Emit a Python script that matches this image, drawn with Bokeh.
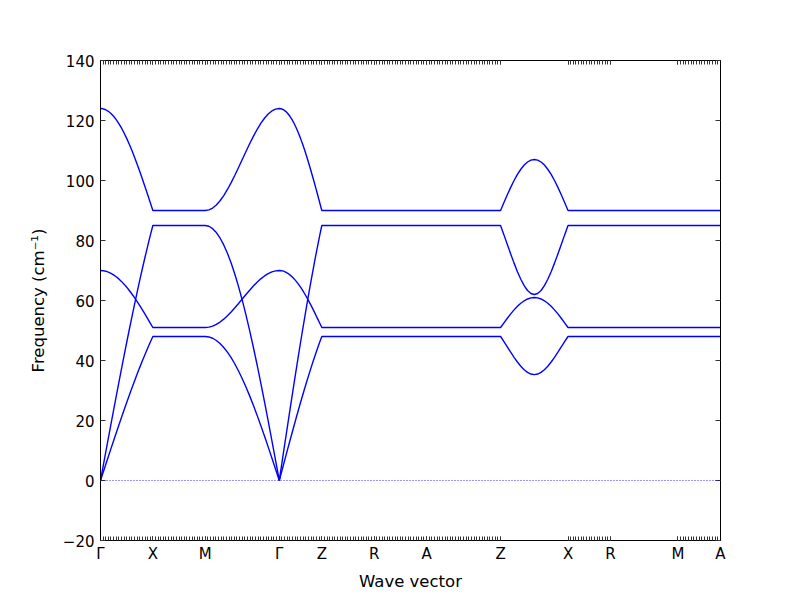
import numpy as np
from bokeh.plotting import figure
from bokeh.models import Range1d, FixedTicker, LinearAxis, Span
from bokeh.embed import file_html
from bokeh.resources import INLINE

# high-symmetry points along the path (path distance)
labels = ["Γ", "X", "M", "Γ", "Z", "R", "A", "Z", "X", "R", "M", "A"]
label_pos = [0.0, 0.5, 1.0, 1.7071, 2.1131, 2.6131, 3.1131, 3.8202, 4.4642, 4.8702, 5.5142, 5.9202]

# q-point tick counts per segment (0 = no ticks drawn on that segment)
tick_counts = [20, 20, 28, 16, 20, 20, 28, 0, 16, 0, 16]

# flat levels of the four branches (cm^-1)
flat_levels = [48.0, 85.0, 51.0, 90.0]

# band 1 (lower acoustic)
b1_gx = [0, 2.66, 5.33, 7.98, 10.62, 13.24, 15.85, 18.43, 20.98, 23.50, 25.98,
         28.42, 30.82, 33.17, 35.47, 37.71, 39.90, 42.02, 44.09, 46.08, 48.00]
b1_mg = [48.00, 47.85, 47.41, 46.67, 45.65, 44.35, 42.77, 40.93, 38.83, 36.50, 33.94,
         31.17, 28.21, 25.08, 21.79, 18.37, 14.83, 11.21, 7.51, 3.77, 0]
b1_gz = [0, 2.66, 5.33, 7.98, 10.62, 13.24, 15.85, 18.43, 20.98, 23.50, 25.98,
         28.42, 30.82, 33.17, 35.47, 37.71, 39.90, 42.02, 44.09, 46.08, 48.00]
b1_zx = [48.0, 46.27, 44.51, 42.76, 41.07, 39.50, 38.10, 36.94, 36.04, 35.49, 35.3,
         35.49, 36.04, 36.94, 38.10, 39.50, 41.07, 42.76, 44.51, 46.27, 48.0]

# band 2 (upper acoustic)
b2_gx = [0, 4.72, 9.43, 14.13, 18.80, 23.45, 28.06, 32.63, 37.15, 41.61, 46.00,
         50.33, 54.57, 58.74, 62.81, 66.78, 70.66, 74.42, 78.07, 81.60, 85.00]
b2_mg = [85.00, 84.74, 83.95, 82.65, 80.84, 78.53, 75.74, 72.47, 68.77, 64.63, 60.10,
         55.20, 49.96, 44.41, 38.59, 32.53, 26.27, 19.84, 13.30, 6.67, 0]
b2_gz = [0, 4.72, 9.43, 14.13, 18.80, 23.45, 28.06, 32.63, 37.15, 41.61, 46.00,
         50.33, 54.57, 58.74, 62.81, 66.78, 70.66, 74.42, 78.07, 81.60, 85.00]
b2_zx = [85.0, 81.87, 78.68, 75.51, 72.46, 69.61, 67.07, 64.95, 63.34, 62.34, 62.0,
         62.34, 63.34, 64.95, 67.07, 69.61, 72.46, 75.51, 78.68, 81.87, 85.0]

# band 3 (lower optical)
b3_gx = [70.00, 69.94, 69.77, 69.47, 69.07, 68.55, 67.93, 67.20, 66.37, 65.45, 64.44,
         63.34, 62.17, 60.93, 59.63, 58.27, 56.87, 55.44, 53.97, 52.49, 51.00]
b3_mg = [51.00, 51.12, 51.46, 52.04, 52.81, 53.78, 54.92, 56.19, 57.56, 59.01, 60.50,
         61.99, 63.44, 64.81, 66.08, 67.22, 68.19, 68.96, 69.53, 69.88, 70.00]
b3_gz = [70.00, 69.94, 69.77, 69.47, 69.07, 68.55, 67.93, 67.20, 66.37, 65.45, 64.44,
         63.34, 62.17, 60.93, 59.63, 58.27, 56.87, 55.44, 53.97, 52.49, 51.00]
b3_zx = [51.0, 52.56, 54.09, 55.54, 56.88, 58.07, 59.09, 59.91, 60.51, 60.88, 61.0,
         60.88, 60.51, 59.91, 59.09, 58.07, 56.88, 55.54, 54.09, 52.56, 51.0]

# band 4 (upper optical)
b4_gx = [124.00, 123.90, 123.58, 123.06, 122.34, 121.41, 120.29, 118.99, 117.51, 115.85, 114.04,
         112.08, 109.98, 107.77, 105.44, 103.01, 100.51, 97.94, 95.32, 92.67, 90.00]
b4_mg = [90.00, 90.21, 90.83, 91.85, 93.25, 94.98, 97.01, 99.28, 101.75, 104.34, 107.00,
         109.66, 112.25, 114.72, 116.99, 119.02, 120.75, 122.15, 123.17, 123.79, 124.00]
b4_gz = [124.00, 123.90, 123.58, 123.06, 122.34, 121.41, 120.29, 118.99, 117.51, 115.85, 114.04,
         112.08, 109.98, 107.77, 105.44, 103.01, 100.51, 97.94, 95.32, 92.67, 90.00]
b4_zx = [90.0, 92.66, 95.25, 97.72, 99.99, 102.02, 103.75, 105.15, 106.17, 106.79, 107.0,
         106.79, 106.17, 105.15, 103.75, 102.02, 99.99, 97.72, 95.25, 92.66, 90.0]

yticks = [-20, 0, 20, 40, 60, 80, 100, 120, 140]

bands = [
    (b1_gx, b1_mg, b1_gz, b1_zx, flat_levels[0]),
    (b2_gx, b2_mg, b2_gz, b2_zx, flat_levels[1]),
    (b3_gx, b3_mg, b3_gz, b3_zx, flat_levels[2]),
    (b4_gx, b4_mg, b4_gz, b4_zx, flat_levels[3]),
]

total = label_pos[-1]
p = figure(width=790, height=598, output_backend="svg", toolbar_location=None,
           x_range=Range1d(0, total), y_range=Range1d(-20, 140),
           min_border_left=100, min_border_right=70, min_border_top=60, min_border_bottom=58)
p.background_fill_color = "white"
p.border_fill_color = "white"
p.grid.visible = False
p.outline_line_color = "black"
p.outline_line_width = 1
p.outline_line_alpha = 1

# zero line
p.add_layout(Span(location=0, dimension="width", line_color="blue", line_dash="1 2",
                  line_width=1, line_alpha=0.8))

for gx, mg, gz, zx, fl in bands:
    segs = [gx, [fl, fl], mg, gz, [fl, fl], [fl, fl], [fl, fl], zx, [fl, fl], [fl, fl], [fl, fl]]
    xs, ys = [], []
    for i, vals in enumerate(segs):
        x = np.linspace(label_pos[i], label_pos[i + 1], len(vals))
        xs.extend(x.tolist())
        ys.extend(vals)
    p.line(xs, ys, line_color="blue", line_width=1.4)

minor = []
for i, n in enumerate(tick_counts):
    if n > 0:
        minor.extend(np.linspace(label_pos[i], label_pos[i + 1], n + 1).tolist())

font = "DejaVu Sans"

def style_x(ax, show_labels):
    ax.ticker = FixedTicker(ticks=label_pos, minor_ticks=minor)
    ax.major_tick_in = 4
    ax.major_tick_out = 0
    ax.minor_tick_in = 4
    ax.minor_tick_out = 0
    ax.axis_line_color = "black"
    ax.major_tick_line_color = "#333333"
    ax.minor_tick_line_color = "#333333"
    if show_labels:
        ax.major_label_overrides = {pos: lab for pos, lab in zip(label_pos, labels)}
        ax.major_label_text_font = font
        ax.major_label_text_font_size = "15px"
        ax.major_label_text_color = "black"
        ax.major_label_standoff = 4
    else:
        ax.major_label_overrides = {pos: "" for pos in label_pos}
        ax.major_label_text_font_size = "10px"

def style_y(ax, show_labels):
    ax.ticker = FixedTicker(ticks=yticks, minor_ticks=[])
    ax.major_tick_in = 5
    ax.major_tick_out = 0
    ax.minor_tick_in = 0
    ax.minor_tick_out = 0
    ax.axis_line_color = "black"
    ax.major_tick_line_color = "#333333"
    if show_labels:
        ax.major_label_overrides = {-20: "\u221220"}
        ax.major_label_text_font = font
        ax.major_label_text_font_size = "15px"
        ax.major_label_text_color = "black"
        ax.major_label_standoff = 6
    else:
        ax.major_label_overrides = {t: "" for t in yticks}
        ax.major_label_text_font_size = "10px"

xb = p.xaxis[0]
style_x(xb, True)
xb.axis_label = "Wave vector"
xb.axis_label_text_font = font
xb.axis_label_text_font_size = "16.5px"
xb.axis_label_text_font_style = "normal"
xb.axis_label_text_color = "black"
xb.axis_label_standoff = 6

yl = p.yaxis[0]
style_y(yl, True)
yl.axis_label = "Frequency (cm\u207b\u00b9)"
yl.axis_label_text_font = font
yl.axis_label_text_font_size = "16.5px"
yl.axis_label_text_font_style = "normal"
yl.axis_label_text_color = "black"
yl.axis_label_standoff = 12

xt = LinearAxis()
style_x(xt, False)
p.add_layout(xt, "above")

yr = LinearAxis()
style_y(yr, False)
p.add_layout(yr, "right")

open("out.html", "w").write(file_html(p, INLINE))
